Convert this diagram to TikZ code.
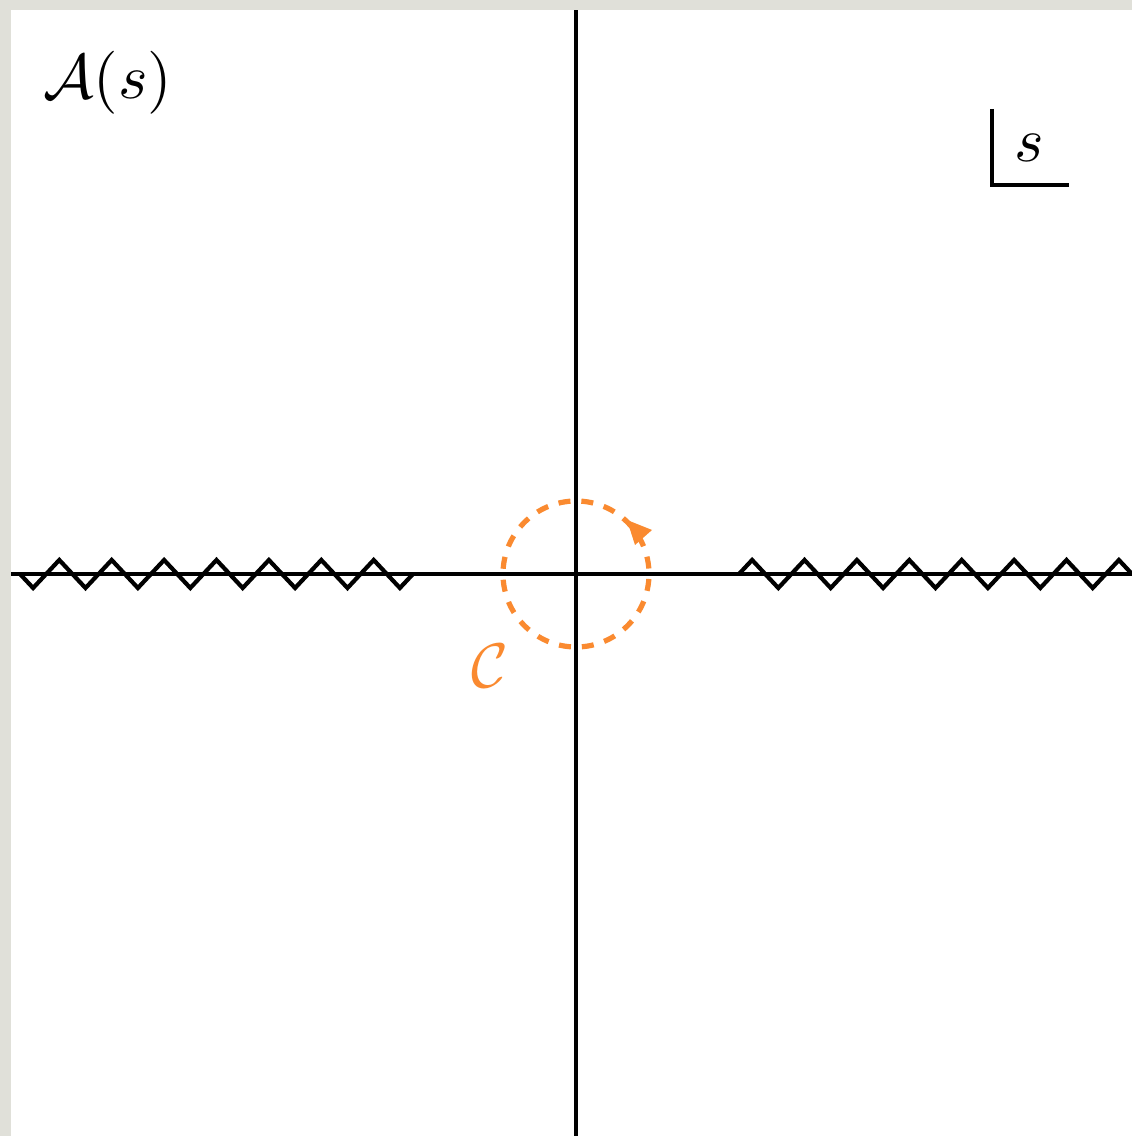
\documentclass[tikz,border=0pt]{standalone}
\definecolor{corange}{RGB}{250,138,48}
\definecolor{bggrey}{RGB}{224,224,217}
\tikzset{
  axisline/.style={line width=1pt, black},
  cutline/.style={line width=1.05pt, black, line join=miter},
  contour/.style={corange, line width=1.3pt, dash pattern=on 3pt off 2.74pt, dash phase=4.37pt},
  lbl/.style={anchor=base west, inner sep=0pt, scale=1.575}
}
\begin{document}
\begin{tikzpicture}[x=0.25pt,y=0.25pt]
\useasboundingbox (0,0) rectangle (1132,1136);
\fill[bggrey] (0,0) rectangle (1132,1136);
\fill[white] (11,0) rectangle (1132,1126);
\coordinate (O) at (576,562);
% axes
\draw[axisline] (11,562) -- (1132,562);
\draw[axisline] (576,0) -- (576,1126);
% branch cuts
\draw[cutline] (413,562) \foreach \k in {0,...,14} { -- ({413-13.1-26.2*\k},{562-14*cos(180*\k)}) } -- (20,562);
\draw[cutline] (739,562) \foreach \k in {0,...,14} { -- ({739+13.1+26.2*\k},{562+14*cos(180*\k)}) } -- (1132,562);
% contour
\draw[contour] (O) circle[radius=73];
\fill[corange] (627,616) -- (652,606) -- (635,591) -- cycle;
\node[lbl, text=corange] (C) at (470,448) {$\mathcal{C}$};
% labels
\node[lbl] (A) at (42,1037) {$\mathcal{A}(s)$};
\node[lbl] (s) at (1013,974) {$s$};
\draw[axisline] (992,1027) -- (992,951) -- (1069,951);
\end{tikzpicture}
\end{document}
